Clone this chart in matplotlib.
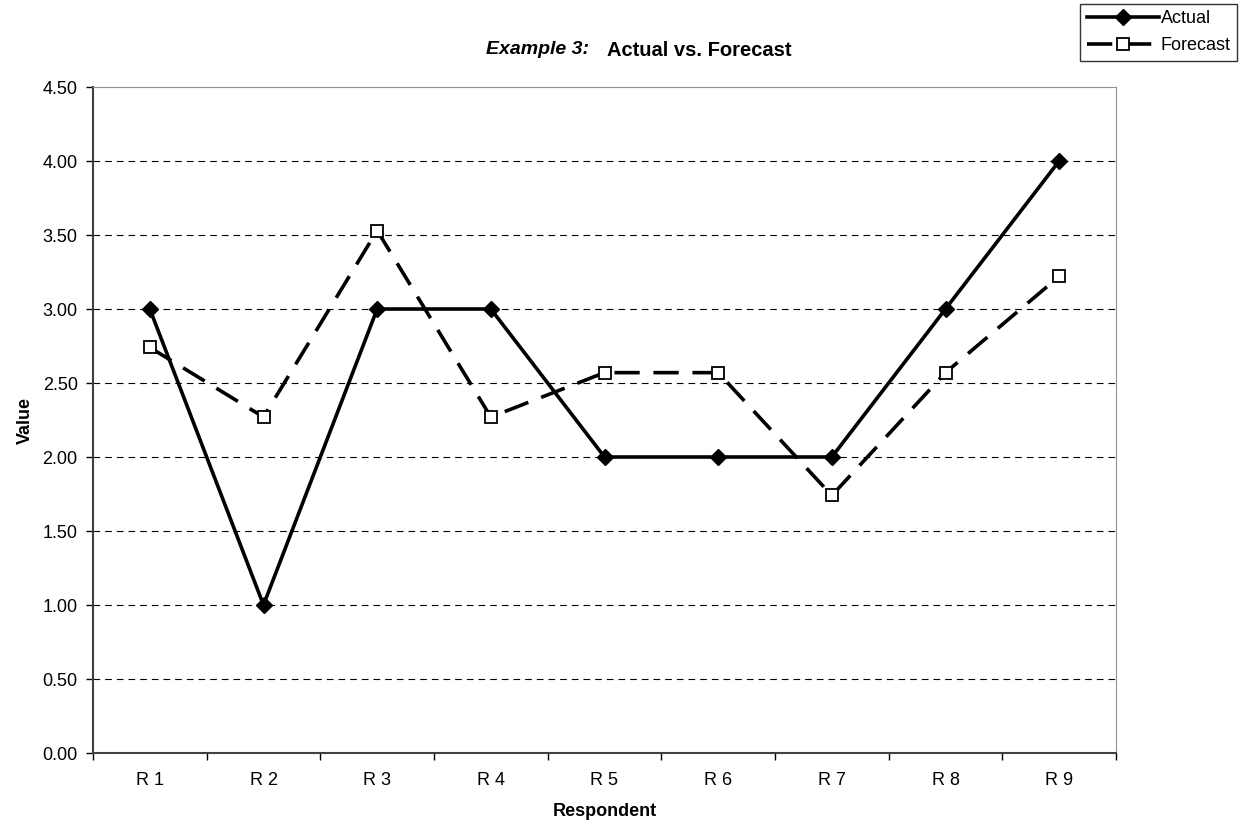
import matplotlib.pyplot as plt
import numpy as np

plt.rcParams['font.family'] = ['Liberation Sans', 'DejaVu Sans']

respondents = ['R 1', 'R 2', 'R 3', 'R 4', 'R 5', 'R 6', 'R 7', 'R 8', 'R 9']
actual = [3, 1, 3, 3, 2, 2, 2, 3, 4]
forecast = [2.74, 2.27, 3.53, 2.27, 2.57, 2.57, 1.74, 2.57, 3.22]

fig = plt.figure(figsize=(12.44, 8.23), dpi=100)
ax = fig.add_axes([93/1244, 1-753/823, (1116-93)/1244, (753-87)/823])

x = np.arange(len(respondents))
ax.plot(x, actual, color='black', lw=2.6, marker='D', ms=8, mfc='black', label='Actual', zorder=4)
ax.plot(x, forecast, color='black', lw=2.6, ls=(0, (7, 3.8)), marker='s', ms=9,
        mfc='white', mec='black', mew=1.3, label='Forecast', zorder=5)

ax.set_xlim(-0.5, len(respondents) - 0.5)
ax.set_ylim(0, 4.5)
ax.set_yticks(np.arange(0, 4.51, 0.5))
ax.set_yticklabels(['%.2f' % v for v in np.arange(0, 4.51, 0.5)], fontsize=13)
ax.set_xticks(x)
ax.set_xticklabels(respondents, fontsize=13)
ax.set_xticks(np.arange(-0.5, len(respondents), 1), minor=True)
ax.tick_params(axis='x', which='major', length=0, pad=14)
ax.tick_params(axis='x', which='minor', length=5, width=1)
ax.tick_params(axis='y', length=5, width=1, pad=6)

for v in np.arange(0.5, 4.5, 0.5):
    ax.axhline(v, color='black', lw=0.8, ls=(0, (6, 4.5)), zorder=1)

ax.spines['top'].set_color('#909090')
ax.spines['right'].set_color('#909090')
ax.spines['left'].set_color('#404040')
ax.spines['bottom'].set_color('#404040')
ax.spines['left'].set_linewidth(1.5)
ax.spines['bottom'].set_linewidth(1.5)

ax.set_xlabel('Respondent', fontsize=13, fontweight='bold', labelpad=10)
ax.set_ylabel('Value', fontsize=13, fontweight='bold', labelpad=6)

fig.text(589/1244, 1-50/823, 'Example 3:', ha='right', va='center', fontsize=14,
         fontweight='bold', fontstyle='italic')
fig.text(607/1244, 1-50/823, 'Actual vs. Forecast', ha='left', va='center', fontsize=14.5,
         fontweight='bold')

leg = fig.legend(loc='upper right', bbox_to_anchor=(1237/1244, 1-4/823), fontsize=13,
                 frameon=True, fancybox=False, edgecolor='black', handlelength=4.0,
                 handletextpad=0.1, borderpad=0.35, labelspacing=0.55, borderaxespad=0)
leg.get_frame().set_linewidth(1)

fig.savefig('out.png', dpi=100)
